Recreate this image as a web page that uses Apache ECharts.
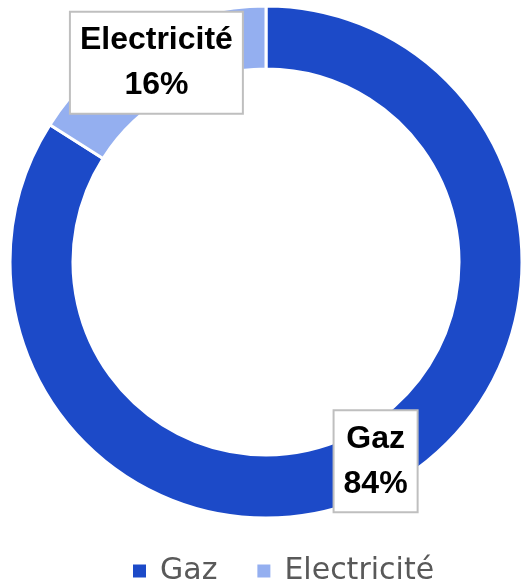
<!DOCTYPE html>
<html>
<head>
<meta charset="utf-8">
<script src="https://cdn.jsdelivr.net/npm/echarts@6/dist/echarts.min.js"></script>
<style>
  html, body { margin: 0; padding: 0; background: #fff; }
  #chart { width: 521px; height: 581px; }
</style>
</head>
<body>
<div id="chart"></div>
<script>
// energy share data
const categories = ['Gaz', 'Electricité']
const shares = [84, 16]
const colors = ['#1c4ac8', '#94aff0']

const chart = echarts.init(document.getElementById('chart'))

chart.setOption({
  animation: false,
  color: colors,
  legend: {
    data: categories,
    top: 551,
    left: 126,
    itemWidth: 15,
    itemHeight: 15,
    itemGap: 38,
    icon: 'rect',
    textStyle: {
      color: '#595959', fontSize: 30, fontFamily: 'DejaVu Sans',
      padding: [0, 0, 0, 8],
    },
  },
  series: [{
    type: 'pie',
    center: [266, 262],
    radius: [193, 256],
    startAngle: 90,
    clockwise: true,
    itemStyle: { borderColor: '#fff', borderWidth: 3 },
    label: {
      position: 'inside',
      formatter: p => p.name + '\n' + p.value + '%',
      color: '#000',
      fontFamily: 'Liberation Sans',
      fontWeight: 'bold',
      fontSize: 32,
      lineHeight: 45,
      backgroundColor: '#fff',
      borderColor: '#bfbfbf',
      borderWidth: 2,
      padding: [5, 9],
    },
    labelLine: { show: false },
    data: categories.map((c, i) => ({ name: c, value: shares[i] })),
  }],
})
</script>
</body>
</html>
